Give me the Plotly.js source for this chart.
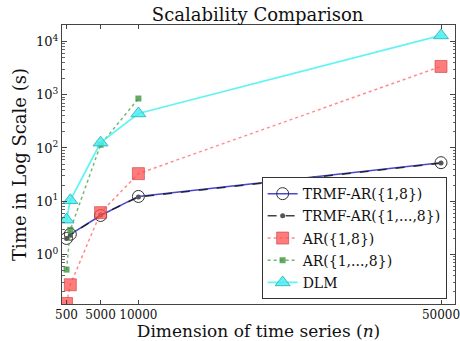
<!DOCTYPE html>
<html><head><meta charset="utf-8">
<script src="https://cdn.plot.ly/plotly-3.0.1.min.js"></script>
<style>html,body{margin:0;padding:0;background:#fff}</style>
</head><body><div id="chart" style="width:460px;height:341px"></div>
<script>
const dims = [500, 1000, 5000, 10000, 50000];
const trmf18 = [2.0, 2.4, 5.4, 12.3, 53];
const trmf1to8 = [2.0, 2.3, 5.5, 12.0, 52];
const ar18 = [0.12, 0.27, 6.1, 33, 3400];
const dims_ar1to8 = [500, 1000, 5000, 10000];
const ar1to8 = [0.52, 2.9, 115, 850];
const dlm = [4.5, 10.4, 126, 445, 13000];
const names = ["TRMF-AR({1,8})", "TRMF-AR({1,...,8})", "AR({1,8})", "AR({1,...,8})", "DLM"];
const xTicks = [500, 5000, 10000, 50000];
const xTickText = ["500", "5000", "10000", "50000"];
const yTicks = [1, 10, 100, 1000, 10000];
const yTickText = ["10<sup>0</sup>", "10<sup>1</sup>", "10<sup>2</sup>", "10<sup>3</sup>", "10<sup>4</sup>"];

const F = "DejaVu Serif, Liberation Serif, serif";
const traces = [
  {x: dims, y: trmf18, name: names[0], mode: "lines+markers", legendgroup: "a",
   line: {color: "rgba(40,40,200,0.85)", width: 1.5},
   marker: {symbol: "circle-open", size: 12, color: "#333", line: {width: 1, color: "#333"}}},
  {x: dims, y: trmf1to8, name: names[1], mode: "lines+markers", legendgroup: "b",
   line: {color: "rgba(20,20,20,0.8)", width: 1.5, dash: "dash"},
   marker: {symbol: "circle", size: 5, color: "#555"}},
  {x: dims, y: ar18, name: names[2], mode: "lines+markers", legendgroup: "c",
   line: {color: "rgba(255,90,90,0.7)", width: 1.5, dash: "dot"},
   marker: {symbol: "square", size: 12, color: "rgba(255,80,80,0.75)", line: {width: 1, color: "rgba(200,60,60,0.6)"}}},
  {x: dims_ar1to8, y: ar1to8, name: names[3], mode: "lines+markers", legendgroup: "d",
   line: {color: "rgba(70,160,70,0.75)", width: 1.5, dash: "dot"},
   marker: {symbol: "square", size: 6, color: "rgba(60,150,60,0.8)"}},
  {x: dims, y: dlm, name: names[4], mode: "lines+markers", legendgroup: "e",
   line: {color: "rgba(60,240,240,0.8)", width: 1.8},
   marker: {symbol: "triangle-up", size: 13, color: "rgba(70,240,240,0.85)", line: {width: 1, color: "rgba(40,170,180,0.8)"}}}
];

const layout = {
  width: 460, height: 341,
  margin: {l: 62, r: 5, t: 25, b: 37},
  paper_bgcolor: "#fff", plot_bgcolor: "#fff",
  font: {family: F, color: "#111"},
  title: {text: "Scalability Comparison", font: {family: F, size: 18, color: "#111"}, x: 0.56, xanchor: "center", y: 0.958, yanchor: "middle"},
  showlegend: true,
  legend: {x: 0.508, y: 0.455, xanchor: "left", yanchor: "top", bgcolor: "#fff",
    bordercolor: "#333", borderwidth: 1, font: {family: F, size: 14, color: "#111"},
    traceorder: "grouped", tracegroupgap: 1},
  xaxis: {type: "linear", range: [-100, 51850], tickvals: xTicks, ticktext: xTickText, tickangle: 0,
    ticklabeloverflow: "allow", automargin: false,
    ticks: "inside", ticklen: 4, tickcolor: "#444", showline: true, linecolor: "#444", linewidth: 1,
    mirror: "ticks", showgrid: false, zeroline: false, tickfont: {family: F, size: 12, color: "#111"},
    title: {text: "Dimension of time series (<i>n</i>)", font: {family: F, size: 17, color: "#111"}, standoff: 4}},
  yaxis: {type: "log", range: [-0.93, 4.31], tickvals: yTicks, ticktext: yTickText,
    ticks: "inside", ticklen: 5, tickcolor: "#444", showline: true, linecolor: "#444", linewidth: 1,
    mirror: "ticks", showgrid: false, zeroline: false, tickfont: {family: F, size: 13, color: "#111"},
    minor: {ticks: "inside", ticklen: 2.5, dtick: "D1", tickcolor: "#666", showgrid: false},
    title: {text: "Time in Log Scale (s)", font: {family: F, size: 18, color: "#111"}, standoff: 4}}
};
Plotly.newPlot("chart", traces, layout, {displayModeBar: false, staticPlot: true});
</script></body></html>
